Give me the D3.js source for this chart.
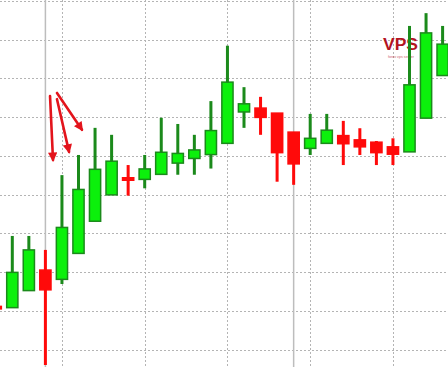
<!DOCTYPE html>
<html>
<head>
<meta charset="utf-8">
<script src="https://cdn.jsdelivr.net/npm/d3@7"></script>
<style>
	body { margin: 0; background: #fff; }
	svg { display: block; }
</style>
</head>
<body>
<script>
// data (M1 candles, price)
var times = ['10:12', '10:13', '10:14', '10:15', '10:16', '10:17', '10:18', '10:19', '10:20', '10:21',
	'10:22', '10:23', '10:24', '10:25', '10:26', '10:27', '10:28', '10:29', '10:30', '10:31',
	'10:32', '10:33', '10:34', '10:35', '10:36', '10:37', '10:38', '10:39'];
var opens = [1.10210, 1.10208, 1.10252, 1.10305, 1.10281, 1.10348, 1.10431, 1.10499, 1.10543, 1.10539,
	1.10552, 1.10581, 1.10593, 1.10603, 1.10632, 1.10713, 1.10723, 1.10710, 1.10661, 1.10619,
	1.10632, 1.10652, 1.10641, 1.10635, 1.10623, 1.10610, 1.10697, 1.10807];
var highs = [1.10212, 1.10393, 1.10393, 1.10357, 1.10550, 1.10602, 1.10672, 1.10654, 1.10576, 1.10602,
	1.10698, 1.10682, 1.10654, 1.10741, 1.10884, 1.10777, 1.10752, 1.10710, 1.10661, 1.10708,
	1.10708, 1.10690, 1.10671, 1.10638, 1.10645, 1.10935, 1.10968, 1.10935];
var lows = [1.10204, 1.10208, 1.10252, 1.10060, 1.10269, 1.10348, 1.10431, 1.10499, 1.10497, 1.10516,
	1.10552, 1.10551, 1.10551, 1.10567, 1.10632, 1.10672, 1.10654, 1.10533, 1.10525, 1.10602,
	1.10632, 1.10576, 1.10602, 1.10576, 1.10576, 1.10610, 1.10697, 1.10807];
var closes = [1.10206, 1.10299, 1.10357, 1.10254, 1.10415, 1.10513, 1.10565, 1.10586, 1.10537, 1.10566,
	1.10609, 1.10606, 1.10615, 1.10665, 1.10790, 1.10734, 1.10699, 1.10608, 1.10579, 1.10645,
	1.10666, 1.10631, 1.10623, 1.10608, 1.10604, 1.10783, 1.10917, 1.10888];

var price_ticks = [1.1010, 1.1020, 1.1030, 1.1040, 1.1050, 1.1060, 1.1070, 1.1080, 1.1090, 1.1100];
var grid_times = ['10:11', '10:16', '10:21', '10:26', '10:31', '10:36'];
var separator_times = ['10:15', '10:30'];

// annotation arrows: [bar index from, price from, bar index to, price to]
var arrows = [
	[3.28, 1.10754, 3.46, 1.10589],
	[3.70, 1.10746, 4.43, 1.10610],
	[3.70, 1.10762, 5.21, 1.10667],
];

var candles = times.map(function (t, i) {
	return { time: t, open: opens[i], high: highs[i], low: lows[i], close: closes[i] };
});

// chart
var width = 448;
var height = 367;

var svg = d3.select('body')
	.append('svg')
	.attr('width', width)
	.attr('height', height);

var x = d3.scalePoint()
	.domain(times)
	.range([-4.25, 442.6]);
var xi = d3.scaleLinear().domain([0, times.length - 1]).range(x.range());

var y = d3.scaleLinear()
	.domain([1.1010, 1.1090])
	.range([349.5, 39.5]);

// grid
svg.append('g')
	.attr('class', 'grid y')
	.selectAll('line')
	.data(price_ticks)
	.enter()
	.append('line')
	.attr('x1', 0)
	.attr('x2', width)
	.attr('y1', function (d) { return Math.round(y(d)) + 0.5; })
	.attr('y2', function (d) { return Math.round(y(d)) + 0.5; })
	.attr('stroke', '#b4b4b4')
	.attr('stroke-dasharray', '2,2');

svg.append('g')
	.attr('class', 'grid x')
	.selectAll('line')
	.data(grid_times)
	.enter()
	.append('line')
	.attr('x1', function (d) { return Math.round(xi(times.indexOf(d) === -1 ? -1 : times.indexOf(d))) + 0.5; })
	.attr('x2', function (d) { return Math.round(xi(times.indexOf(d) === -1 ? -1 : times.indexOf(d))) + 0.5; })
	.attr('y1', 0)
	.attr('y2', height)
	.attr('stroke', '#b4b4b4')
	.attr('stroke-dasharray', '2,2');

svg.append('g')
	.selectAll('line')
	.data(separator_times)
	.enter()
	.append('line')
	.attr('x1', function (d) { return x(d); })
	.attr('x2', function (d) { return x(d); })
	.attr('y1', 0)
	.attr('y2', height)
	.attr('stroke', '#bdbdbd')
	.attr('stroke-width', 1.5);

// watermark
var wm = svg.append('g').attr('class', 'watermark');
wm.append('text')
	.attr('x', xi(23.4))
	.attr('y', y(1.10873))
	.attr('font-family', 'Liberation Sans, Arial, sans-serif')
	.attr('font-weight', 'bold')
	.attr('font-size', 16)
	.attr('textLength', 35)
	.attr('lengthAdjust', 'spacingAndGlyphs')
	.attr('fill', '#b3141f')
	.text('VPS');
wm.append('text')
	.attr('x', xi(23.7))
	.attr('y', y(1.10853))
	.attr('font-family', 'Liberation Sans, Arial, sans-serif')
	.attr('font-size', 3.5)
	.attr('textLength', 26)
	.attr('lengthAdjust', 'spacingAndGlyphs')
	.attr('fill', '#b3141f')
	.attr('opacity', 0.7)
	.text('forex vps server');

// candles
var body_w = 11.2;
var up_fill = '#0cf00c';
var up_line = '#1b8a1b';
var down_col = '#ff0a0a';

var g = svg.append('g').attr('class', 'candles');
var c = g.selectAll('g')
	.data(candles)
	.enter()
	.append('g');

c.append('rect')
	.attr('x', function (d) { return x(d.time) - 1.5; })
	.attr('width', 3)
	.attr('y', function (d) { return y(d.high); })
	.attr('height', function (d) { return Math.max(1, y(d.low) - y(d.high)); })
	.attr('fill', function (d) { return d.close >= d.open ? up_line : down_col; });

c.append('rect')
	.attr('x', function (d) { return x(d.time) - body_w / 2; })
	.attr('width', body_w)
	.attr('y', function (d) {
		var h = Math.abs(y(d.open) - y(d.close));
		return Math.min(y(d.open), y(d.close)) - (h < 2.5 ? (2.5 - h) / 2 : 0);
	})
	.attr('height', function (d) { return Math.max(2.5, Math.abs(y(d.open) - y(d.close))); })
	.attr('fill', function (d) { return d.close >= d.open ? up_fill : down_col; })
	.attr('stroke', function (d) { return d.close >= d.open ? up_line : down_col; })
	.attr('stroke-width', 1.5);

// arrows
svg.append('defs')
	.append('marker')
	.attr('id', 'head')
	.attr('viewBox', '0 0 10 10')
	.attr('refX', 8)
	.attr('refY', 5)
	.attr('markerWidth', 4.2)
	.attr('markerHeight', 3.6)
	.attr('orient', 'auto')
	.attr('markerUnits', 'strokeWidth')
	.append('path')
	.attr('d', 'M0,0 L10,5 L0,10 Z')
	.attr('fill', '#e3141c');

svg.append('g')
	.selectAll('line')
	.data(arrows)
	.enter()
	.append('line')
	.attr('x1', function (d) { return xi(d[0]); })
	.attr('y1', function (d) { return y(d[1]); })
	.attr('x2', function (d) { return xi(d[2]); })
	.attr('y2', function (d) { return y(d[3]); })
	.attr('stroke', '#e3141c')
	.attr('stroke-width', 2.6)
	.attr('stroke-linecap', 'round')
	.attr('marker-end', 'url(#head)');
</script>
</body>
</html>
